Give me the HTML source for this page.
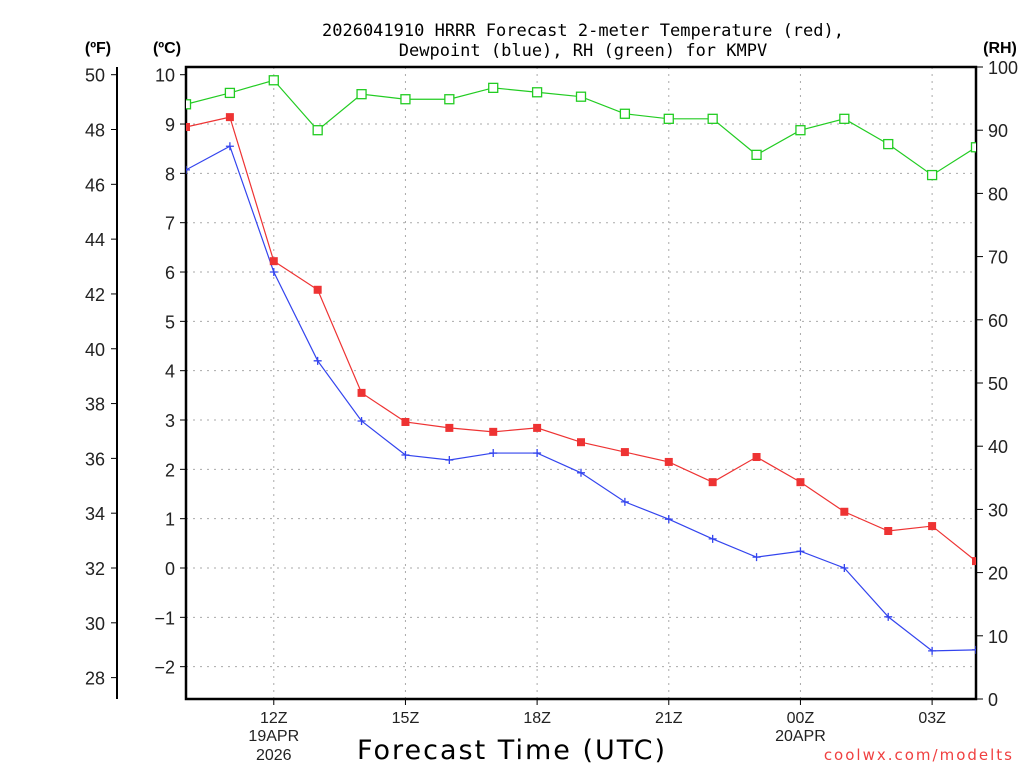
<!DOCTYPE html>
<html><head><meta charset="utf-8"><style>
body{margin:0;background:#fff;}
svg{display:block;font-family:"Liberation Sans","DejaVu Sans",sans-serif;}
</style></head><body>
<svg id="chart" width="1024" height="768">
<g id="grid"></g>
<g id="axes"></g>
<g id="series"></g>
<text x="583" y="36" text-anchor="middle" font-size="17" font-family="DejaVu Sans Mono, Liberation Mono, monospace">2026041910 HRRR Forecast 2-meter Temperature (red),</text>
<text x="583" y="56" text-anchor="middle" font-size="17" font-family="DejaVu Sans Mono, Liberation Mono, monospace">Dewpoint (blue), RH (green) for KMPV</text>
<text x="98" y="53" text-anchor="middle" font-size="16" font-weight="bold">(ºF)</text>
<text x="167" y="53" text-anchor="middle" font-size="16" font-weight="bold">(ºC)</text>
<text x="1000" y="53" text-anchor="middle" font-size="16" font-weight="bold">(RH)</text>
<text x="512" y="759" text-anchor="middle" font-size="27" letter-spacing="2" font-family="DejaVu Sans, sans-serif">Forecast Time (UTC)</text>
<text x="1014" y="760" text-anchor="end" font-size="15" fill="#f04040" font-family="DejaVu Sans, sans-serif" letter-spacing="2">coolwx.com/modelts</text>
</svg>
<script>
const hours=[0,1,2,3,4,5,6,7,8,9,10,11,12,13,14,15,16,17,18];
const tempC=[8.94,9.14,6.22,5.64,3.55,2.96,2.84,2.76,2.84,2.55,2.35,2.15,1.74,2.25,1.74,1.14,0.75,0.85,0.14];
const dewC=[8.07,8.55,6.0,4.2,2.98,2.29,2.19,2.33,2.33,1.93,1.34,0.99,0.59,0.22,0.34,0.0,-0.99,-1.68,-1.66];
const rh=[94.1,95.9,97.9,90.0,95.7,94.9,94.9,96.7,96.0,95.3,92.6,91.8,91.8,86.1,90.0,91.8,87.8,82.9,87.3];
const xTickLabels=["12Z","15Z","18Z","21Z","00Z","03Z"];
const xTickHours=[2,5,8,11,14,17];
const cTicks=[-2,-1,0,1,2,3,4,5,6,7,8,9,10];
const fTicks=[28,30,32,34,36,38,40,42,44,46,48,50];
const rhTicks=[0,10,20,30,40,50,60,70,80,90,100];
const L=186,R=976,T=67,B=699;
const xs=h=>L+(R-L)*h/18;
const yc=c=>568-c*49.33;
const yr=v=>B-(B-T)*v/100;
const NS="http://www.w3.org/2000/svg";
function mk(p,tag,at){const e=document.createElementNS(NS,tag);for(const k in at)e.setAttribute(k,at[k]);p.appendChild(e);return e;}
const grid=document.getElementById('grid'),axes=document.getElementById('axes'),ser=document.getElementById('series');
cTicks.forEach(c=>{if(c<10){const l=mk(grid,'line',{x1:L,x2:R,y1:yc(c),y2:yc(c),stroke:'#aaa','stroke-dasharray':'2,5'});

}
const t=mk(axes,'text',{x:175,y:yc(c)+7,'text-anchor':'end','font-size':18,fill:'#222'});t.textContent=c<0?'\u2212'+(-c):c;


mk(axes,'line',{x1:L-6,x2:L,y1:yc(c),y2:yc(c),stroke:'#000'});});
xTickHours.forEach((h,i)=>{const l=mk(grid,'line',{x1:xs(h),x2:xs(h),y1:T,y2:B,stroke:'#aaa','stroke-dasharray':'2,5'});


mk(axes,'line',{x1:xs(h),x2:xs(h),y1:B,y2:B+6,stroke:'#000'});
const t=mk(axes,'text',{x:xs(h),y:B+24,'text-anchor':'middle','font-size':16,fill:'#222'});t.textContent=xTickLabels[i];

});
[["19APR",2,741],["2026",2,760],["20APR",14,741]].forEach(d=>{const t=mk(axes,'text',{x:xs(d[1]),y:d[2],'text-anchor':'middle','font-size':16,fill:'#222'});t.textContent=d[0];

});
fTicks.forEach(f=>{const y=yc((f-32)*5/9);mk(axes,'line',{x1:111,x2:117,y1:y,y2:y,stroke:'#000'});
const t=mk(axes,'text',{x:105,y:y+7,'text-anchor':'end','font-size':18,fill:'#222'});t.textContent=f;

});
mk(axes,'line',{x1:117,x2:117,y1:T,y2:B,stroke:'#000','stroke-width':2});
rhTicks.forEach(v=>{mk(axes,'line',{x1:R,x2:R+7,y1:yr(v),y2:yr(v),stroke:'#000'});
const t=mk(axes,'text',{x:988,y:yr(v)+7,'font-size':18,fill:'#222'});t.textContent=v;

});
const frame=mk(axes,'rect',{x:L,y:T,width:R-L,height:B-T,fill:'none',stroke:'#000','stroke-width':2.5});


ser.setAttribute('clip-path','url(#clip)');
const defs=mk(document.getElementById('chart'),'defs',{});const cp=mk(defs,'clipPath',{id:'clip'});mk(cp,'rect',{x:L,y:T-10,width:R-L,height:B-T+10});
function line(vals,yf,col,name){const pts=hours.map((h,i)=>xs(h)+','+yf(vals[i])).join(' ');
const pl=mk(ser,'polyline',{points:pts,fill:'none',stroke:col,'stroke-width':1.2});

}
line(rh,yr,'#22cc22','rh');line(tempC,yc,'#ee3333','temperature');line(dewC,yc,'#3344ee','dewpoint');
hours.forEach((h,i)=>{const x=xs(h);
const g=mk(ser,'rect',{x:x-4.5,y:yr(rh[i])-4.5,width:9,height:9,fill:'#fff',stroke:'#22cc22','stroke-width':1.3});


const r=mk(ser,'rect',{x:x-4,y:yc(tempC[i])-4,width:8,height:8,fill:'#ee3333'});


const y=yc(dewC[i]);const b=mk(ser,'path',{d:`M${x-4},${y}H${x+4}M${x},${y-4}V${y+4}`,stroke:'#3344ee','stroke-width':1.3});

});
</script>
</body></html>
